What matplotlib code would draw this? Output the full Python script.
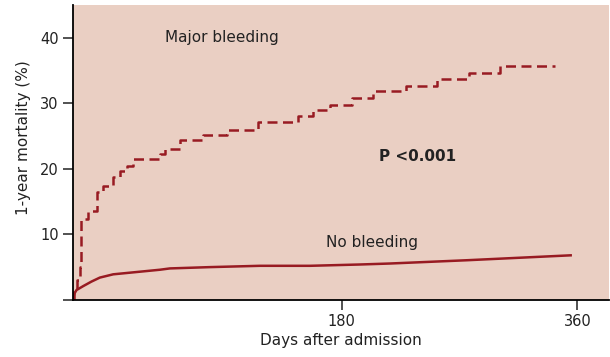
import numpy as np
import matplotlib
matplotlib.use("Agg")
import matplotlib.pyplot as plt

# Days after admission (read on the chart's own tick scale) and 1-year mortality (%)
bleed_days = [-25.5, -24.5, -22.2, -19.9, -19.2, -13.8, -7.0, -2.4, 5.3, 10.6, 16.0, 20.5,
              41.2, 45.0, 56.4, 74.0, 92.4, 116.0, 146.6, 158.1, 171.0, 187.9, 203.9,
              229.1, 252.8, 277.3, 300.9, 343.0]
bleed_mort = [0.0, 1.5, 3.0, 5.0, 12.4, 13.6, 16.5, 17.4, 18.7, 19.7, 20.4, 21.5,
              22.2, 23.1, 24.4, 25.1, 26.0, 27.1, 28.0, 29.0, 29.8, 30.8, 31.8,
              32.7, 33.7, 34.6, 35.7, 35.7]

nobleed_days = [-25.5, -24.0, -22.5, -17.4, -11.0, -4.7, 5.5, 20.8, 41.2, 48.8, 79.4, 117.6,
                155.8, 194.0, 216.9, 275.7, 354.9]
nobleed_mort = [0.0, 1.0, 1.5, 2.1, 2.8, 3.4, 3.9, 4.2, 4.6, 4.8, 5.0, 5.2,
                5.2, 5.4, 5.55, 6.05, 6.8]

x_ticks = [180, 360]
y_ticks = [0, 10, 20, 30, 40]
y_ticklabels = ["", "10", "20", "30", "40"]

red = "#981b22"
txt = "#222222"

fig = plt.figure(figsize=(6.1, 3.57), dpi=100)
ax = fig.add_axes([0.119, 0.160, 0.879, 0.826])
ax.set_facecolor("#eacfc3")

ax.plot(bleed_days, bleed_mort, drawstyle="steps-post", color=red, lw=1.8,
        dashes=(4, 2.2))
ax.plot(nobleed_days, nobleed_mort, color=red, lw=1.8)

ax.set_xlim(-25.5, 384)
ax.set_ylim(0, 45)
ax.set_xticks(x_ticks)
ax.set_yticks(y_ticks)
ax.set_yticklabels(y_ticklabels)

for s in ["top", "right"]:
    ax.spines[s].set_visible(False)
for s in ["left", "bottom"]:
    ax.spines[s].set_linewidth(1.3)
ax.tick_params(length=7, width=1.1, labelsize=10.5, colors=txt, pad=3)

ax.set_xlabel("Days after admission", fontsize=11, color=txt, labelpad=3)
ax.set_ylabel("1-year mortality (%)", fontsize=11, color=txt)
ax.yaxis.set_label_coords(-0.078, 0.55)

ax.text(88.5, 40, "Major bleeding", fontsize=11, color=txt, ha="center", va="center")
ax.text(203, 8.8, "No bleeding", fontsize=11, color=txt, ha="center", va="center")
ax.text(238, 21.9, "P <0.001", fontsize=11, color=txt, ha="center", va="center",
        fontweight="bold")

fig.savefig("out.png", dpi=100)
